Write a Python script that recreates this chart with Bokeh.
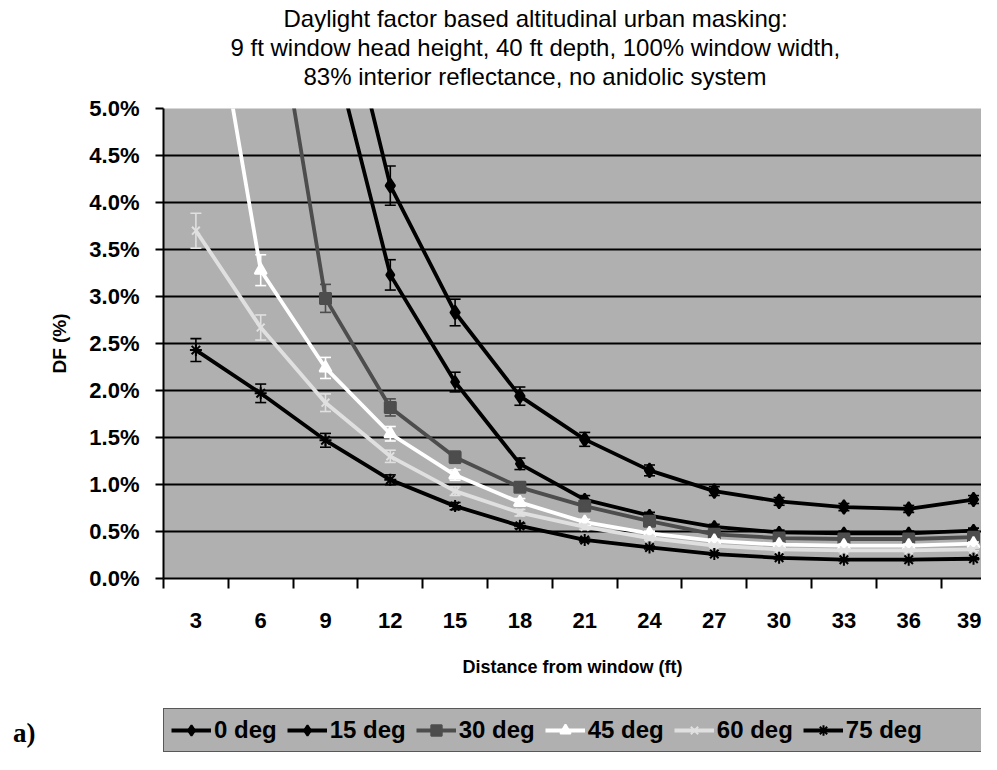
import numpy as np
from bokeh.plotting import figure
from bokeh.layouts import column
from bokeh.models import (Range1d, FixedTicker, PrintfTickFormatter, Legend,
                          LegendItem, Title, ColumnDataSource)
from bokeh.embed import file_html
from bokeh.resources import INLINE

# ---------------- data ----------------
distance_ft = [3, 6, 9, 12, 15, 18, 21, 24, 27, 30, 33, 36, 39]
x_ticks = [3, 6, 9, 12, 15, 18, 21, 24, 27, 30, 33, 36, 39]
y_ticks = [0.0, 0.5, 1.0, 1.5, 2.0, 2.5, 3.0, 3.5, 4.0, 4.5, 5.0]

series_labels = ["0 deg", "15 deg", "30 deg", "45 deg", "60 deg", "75 deg"]

df_0deg = [None, None, 7.0, 4.18, 2.83, 1.94, 1.48, 1.15, 0.93, 0.82, 0.76, 0.74, 0.84]
df_15deg = [None, None, 5.95, 3.23, 2.09, 1.22, 0.84, 0.67, 0.55, 0.49, 0.48, 0.48, 0.51]
df_30deg = [None, 7.15, 2.98, 1.82, 1.29, 0.97, 0.77, 0.61, 0.47, 0.43, 0.42, 0.42, 0.44]
df_45deg = [7.3, 3.28, 2.24, 1.54, 1.10, 0.81, 0.60, 0.48, 0.40, 0.36, 0.35, 0.35, 0.37]
df_60deg = [3.70, 2.67, 1.87, 1.30, 0.93, 0.70, 0.55, 0.43, 0.35, 0.31, 0.30, 0.30, 0.31]
df_75deg = [2.43, 1.97, 1.47, 1.05, 0.77, 0.56, 0.41, 0.33, 0.26, 0.22, 0.20, 0.20, 0.21]

error_bar_percent = 5.0  # percentage error bars, as set in the chart

title_lines = ["Daylight factor based altitudinal urban masking:",
               "9 ft window head height, 40 ft depth, 100% window width,",
               "83% interior reflectance, no anidolic system"]
panel_tag = "a)"

# ---------------- styles ----------------
all_series = [df_0deg, df_15deg, df_30deg, df_45deg, df_60deg, df_75deg]
colors = ["#000000", "#000000", "#4d4d4d", "#ffffff", "#e0e0e0", "#000000"]
markers = ["diamond", "diamond", "square", "triangle", "x", "asterisk"]
msizes = [14, 12, 11, 12, 11, 12]

FONT = "Liberation Sans"
BG = "#b0b0b0"
W = 981
H_MAIN = 700
H_LEG = 54

p = figure(width=W, height=H_MAIN, output_backend="svg", toolbar_location=None,
           x_range=Range1d(1.5, 39.37), y_range=Range1d(0, 5),
           min_border_left=163, min_border_right=0,
           min_border_top=108, min_border_bottom=122)
p.background_fill_color = BG
p.border_fill_color = "white"
p.outline_line_color = None

# grid
p.xgrid.visible = False
p.ygrid.ticker = FixedTicker(ticks=y_ticks[1:-1])
p.ygrid.grid_line_color = "black"
p.ygrid.grid_line_width = 2

# y axis
ya = p.yaxis[0]
ya.ticker = FixedTicker(ticks=y_ticks, minor_ticks=[])
ya.formatter = PrintfTickFormatter(format="%.1f%%")
ya.axis_line_color = "black"
ya.axis_line_width = 2
ya.major_tick_line_color = "black"
ya.major_tick_line_width = 2
ya.major_tick_out = 8
ya.major_tick_in = 0
ya.minor_tick_line_color = None
ya.major_label_text_font = FONT
ya.major_label_text_font_style = "bold"
ya.major_label_text_font_size = "22px"
ya.major_label_text_color = "black"
ya.major_label_standoff = 16
ya.axis_label = "DF (%)"
ya.axis_label_text_font = FONT
ya.axis_label_text_font_style = "bold"
ya.axis_label_text_font_size = "19px"
ya.axis_label_text_color = "black"
ya.axis_label_standoff = 16

# x axis
bounds = [v - 1.5 for v in x_ticks] + [x_ticks[-1] + 1.5]
xa = p.xaxis[0]
xa.ticker = FixedTicker(ticks=x_ticks, minor_ticks=bounds)
xa.axis_line_color = "black"
xa.axis_line_width = 2
xa.major_tick_line_color = None
xa.major_tick_out = 0
xa.major_tick_in = 0
xa.minor_tick_line_color = "black"
xa.minor_tick_line_width = 2
xa.minor_tick_out = 10
xa.minor_tick_in = 0
xa.major_label_text_font = FONT
xa.major_label_text_font_style = "bold"
xa.major_label_text_font_size = "22px"
xa.major_label_text_color = "black"
xa.major_label_standoff = 24
xa.axis_label = "Distance from window (ft)"
xa.axis_label_text_font = FONT
xa.axis_label_text_font_style = "bold"
xa.axis_label_text_font_size = "18px"
xa.axis_label_text_color = "black"
xa.axis_label_standoff = 26

# title lines, stacked above the frame (first added sits nearest the frame)
p.add_layout(Title(text=" ", text_font_size="16px", standoff=0), "above")
offsets = [120, 67, 140]
for i in [2, 1, 0]:
    p.add_layout(Title(text=title_lines[i], align="left", offset=offsets[i],
                       standoff=0, text_font=FONT, text_font_size="24px",
                       text_font_style="normal", text_color="black"), "above")

# legend strip below the chart (its frame lines up with the chart's frame)
p2 = figure(width=W, height=H_LEG, output_backend="svg", toolbar_location=None,
            x_range=Range1d(0, 10), y_range=Range1d(0, H_LEG),
            x_axis_location=None, y_axis_location="left",
            min_border_left=0, min_border_right=0, min_border_top=0, min_border_bottom=0)
p2.outline_line_color = None
p2.background_fill_color = "white"
p2.border_fill_color = "white"
p2.grid.visible = False
tag_y = 22
ax2 = p2.yaxis[0]
ax2.ticker = FixedTicker(ticks=[tag_y], minor_ticks=[])
ax2.major_label_overrides = {tag_y: panel_tag}
ax2.axis_line_color = None
ax2.major_tick_line_color = None
ax2.minor_tick_line_color = None
ax2.major_tick_out = 0
ax2.major_label_standoff = 128
ax2.major_label_text_font = "Liberation Serif"
ax2.major_label_text_font_style = "bold"
ax2.major_label_text_font_size = "27px"
ax2.major_label_text_color = "black"

# series
items = []
frac = error_bar_percent / 100.0
for lbl, vals, c, mk, ms in zip(series_labels, all_series, colors, markers, msizes):
    y = np.array(vals, dtype=float)
    src = ColumnDataSource(dict(x=distance_ft, y=y, lo=y * (1 - frac), hi=y * (1 + frac)))
    p.line("x", "y", source=src, line_color=c, line_width=3.8)
    p.segment(x0="x", y0="lo", x1="x", y1="hi", source=src, line_color=c, line_width=1.6)
    p.scatter("x", "lo", source=src, marker="dash", size=11, line_color=c, line_width=1.6)
    p.scatter("x", "hi", source=src, marker="dash", size=11, line_color=c, line_width=1.6)
    p.scatter("x", "y", source=src, marker=mk, size=ms, fill_color=c,
              line_color=c, line_width=2)
    # legend swatches with the same styling (a single point kept outside the strip's view)
    l2 = p2.line(x=[-100, -99], y=[-100, -100], line_color=c, line_width=3.8)
    s2 = p2.scatter(x=[-100], y=[-100], marker=mk, size=ms, fill_color=c,
                    line_color=c, line_width=2)
    items.append(LegendItem(label=lbl, renderers=[l2, s2]))

pad_r = p2.line(x=[-100, -99], y=[-100, -100], line_alpha=0)
items.append(LegendItem(label="\u2003\u2003\u2003\u2003", renderers=[pad_r]))

legend = Legend(items=items, orientation="horizontal", location=(0, 2),
                background_fill_color=BG, background_fill_alpha=1.0,
                border_line_color="black", border_line_width=1.5,
                label_text_font=FONT, label_text_font_style="bold",
                label_text_font_size="24px", label_text_color="black",
                glyph_width=40, glyph_height=26, label_height=26,
                label_standoff=3, spacing=10, padding=7, margin=0)
p2.add_layout(legend)

layout = column(p, p2, spacing=0)
open("out.html", "w").write(file_html(layout, INLINE))
